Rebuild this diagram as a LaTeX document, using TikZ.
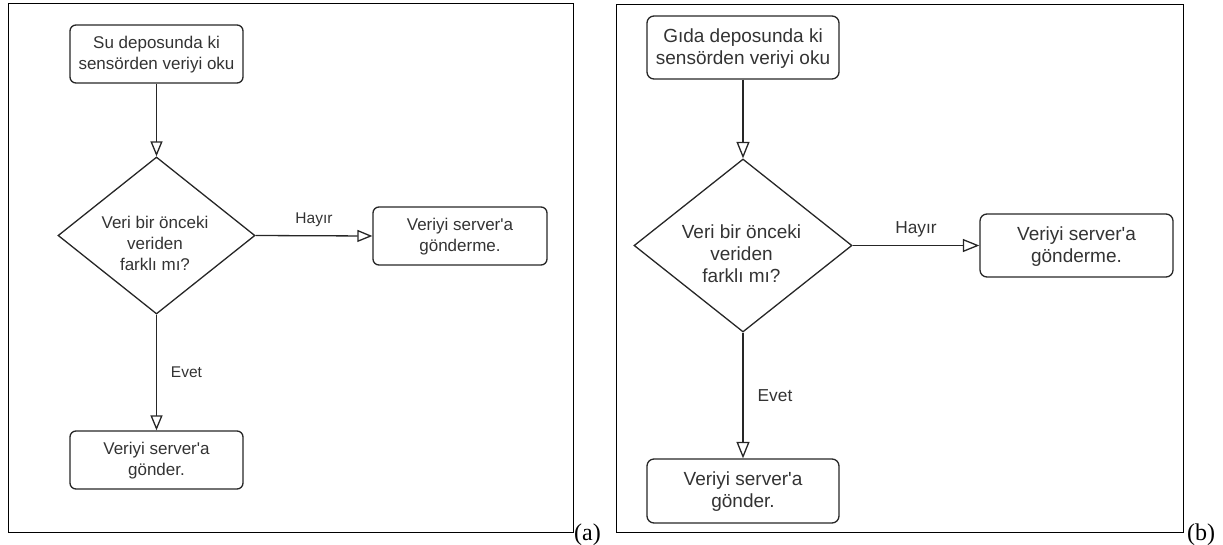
\documentclass[tikz,border=0pt]{standalone}
\usepackage{fontspec}
\setmainfont{Liberation Serif}
\newfontfamily\diagfont{Liberation Sans}
\usetikzlibrary{arrows.meta,shapes.geometric}
\begin{document}
\begin{tikzpicture}[x=1pt,y=-1pt,
  frame/.style={draw=black,line width=0.9pt},
  boxa/.style={draw=black!85,line width=1.3pt,rounded corners=6pt,minimum width=173pt,minimum height=58pt,inner sep=0pt},
  boxb/.style={draw=black!85,line width=1.3pt,rounded corners=7pt,minimum width=192pt,minimum height=63pt,inner sep=0pt},
  dia/.style={draw=black!85,line width=1.3pt,diamond,inner sep=0pt},
  txta/.style={text=black!80,align=center,font=\diagfont\fontsize{17}{21}\selectfont,inner sep=0pt},
  txtb/.style={text=black!80,align=center,font=\diagfont\fontsize{19}{22}\selectfont,inner sep=0pt},
  lbla/.style={text=black!80,font=\diagfont\fontsize{15.5}{18}\selectfont,inner sep=0pt},
  lblb/.style={text=black!80,font=\diagfont\fontsize{17.3}{20}\selectfont,inner sep=0pt},
  subcap/.style={font=\fontsize{24}{26}\selectfont,inner sep=0pt,anchor=base west},
  arra/.style={draw=black!85,line width=1.3pt,-{Triangle[open,length=15pt,width=12pt,line width=1.3pt]}},
  arrb/.style={draw=black!85,line width=1.3pt,-{Triangle[open,length=16.5pt,width=13pt,line width=1.3pt]}}
]
\useasboundingbox (0,0) rectangle (1223,544);
% ---------- panel (a)
\draw[frame] (8,3) rectangle (573,532);
\node[subcap] (capa) at (574,540) {(a)};
\node[boxa] (a1) at (156.5,54) {};
\node[txta] (a1t) at (156.5,55) {Su deposunda ki\\sensörden veriyi oku};
\node[dia,minimum width=197pt,minimum height=157pt] (a2) at (156.5,235.5) {};
\node[txta] (a2t) at (155,243) {Veri bir önceki\\veriden\\farklı mı?};
\node[boxa,minimum width=174pt] (a3) at (460,236) {};
\node[txta] (a3t) at (460,236.5) {Veriyi server'a\\gönderme.};
\node[boxa] (a4) at (156.5,460) {};
\node[txta] (a4t) at (156.5,461) {Veriyi server'a\\gönder.};
\draw[arra] (a1.south) -- (a2.north);
\draw[arra] (a2.east) -- node[lbla,pos=0.5,yshift=16pt] (ha) {Hayır} (a3.west);
\draw[arra] (a2.south) -- node[lbla,pos=0.5,xshift=30pt] (ea) {Evet} (a4.north);
% ---------- panel (b)
\draw[frame] (616,4) rectangle (1183,532);
\node[subcap] (capb) at (1187,540) {(b)};
\node[boxb] (b1) at (743,47.5) {};
\node[txtb] (b1t) at (743,48.5) {Gıda deposunda ki\\sensörden veriyi oku};
\node[dia,minimum width=218pt,minimum height=173pt] (b2) at (743,245.5) {};
\node[txtb] (b2t) at (741.5,254) {Veri bir önceki\\veriden\\farklı mı?};
\node[boxb,minimum width=193pt] (b3) at (1076.5,245.5) {};
\node[txtb] (b3t) at (1076.5,246.5) {Veriyi server'a\\gönderme.};
\node[boxb,minimum height=64pt] (b4) at (743,491) {};
\node[txtb] (b4t) at (743,492) {Veriyi server'a\\gönder.};
\draw[arrb] (b1.south) -- (b2.north);
\draw[arrb] (b2.east) -- node[lblb,pos=0.5,yshift=16.5pt] (hb) {Hayır} (b3.west);
\draw[arrb] (b2.south) -- node[lblb,pos=0.5,xshift=32pt] (eb) {Evet} (b4.north);
\end{tikzpicture}
\end{document}
